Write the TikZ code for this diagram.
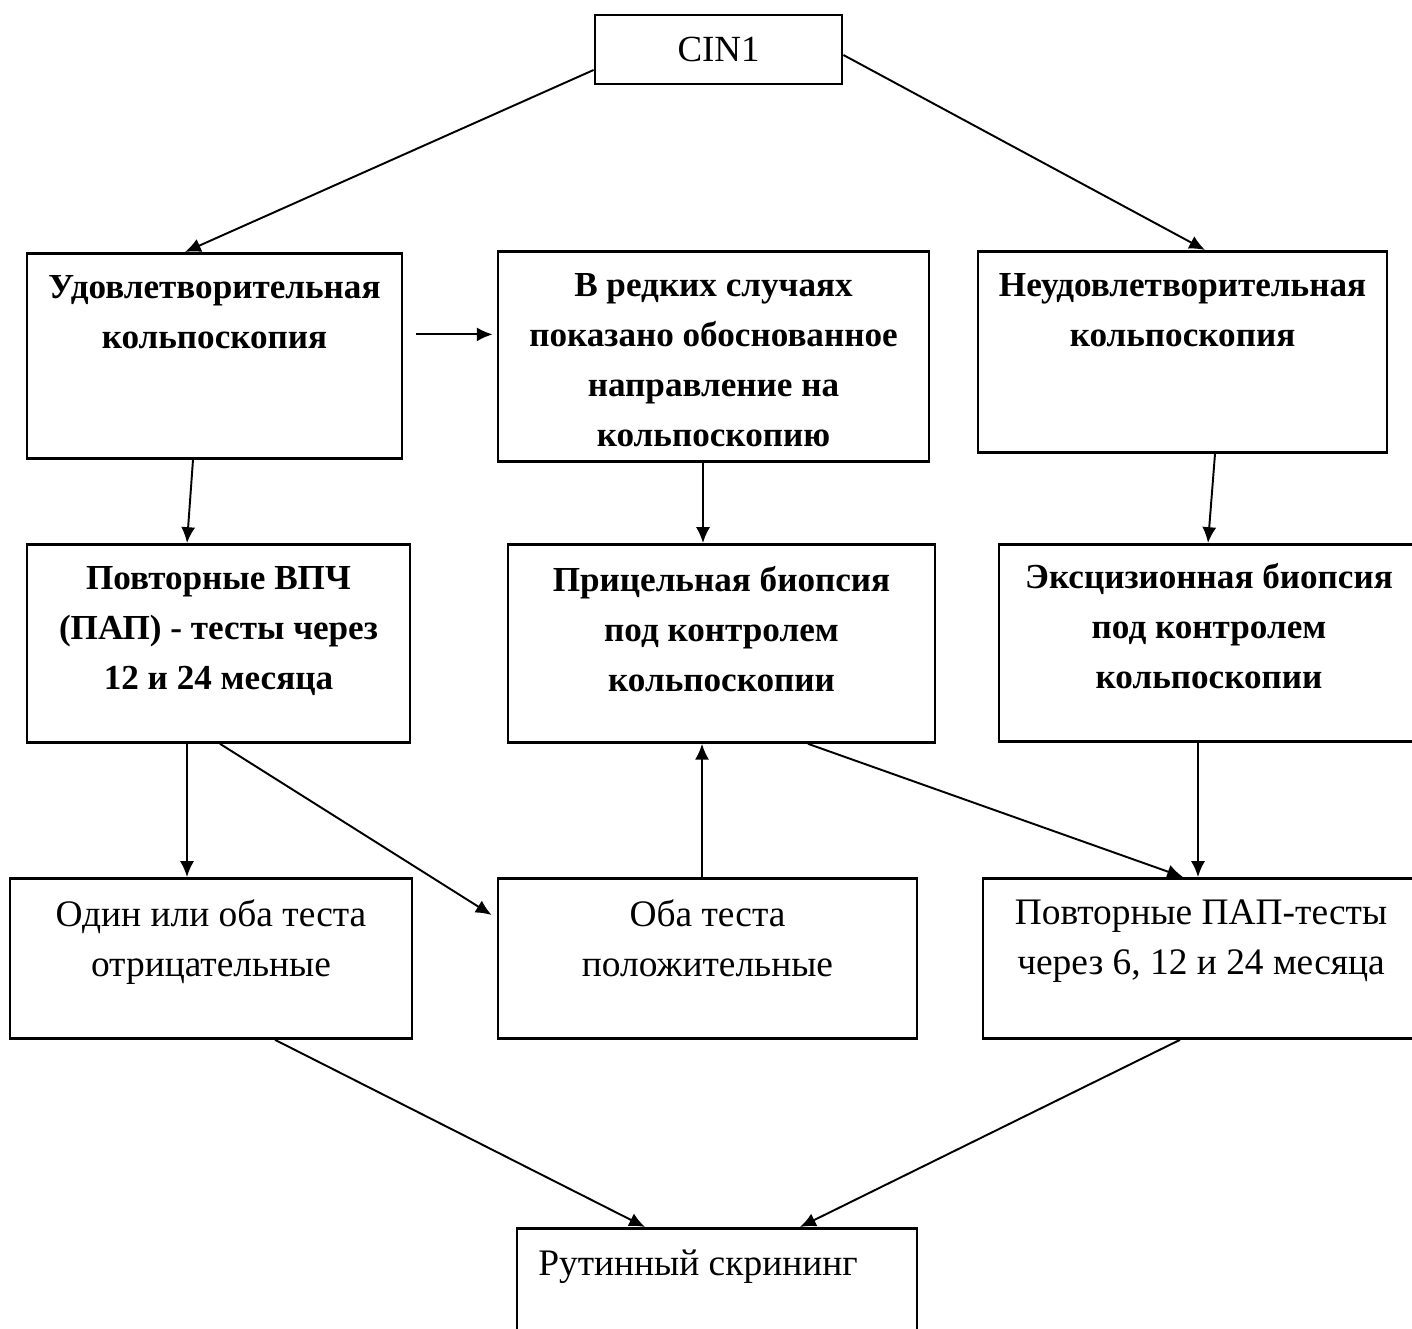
\documentclass[tikz,border=0pt]{standalone}
\usepackage{fontspec}
\setmainfont{Liberation Serif}
\usetikzlibrary{arrows.meta,positioning}

\begin{document}
\begin{tikzpicture}[->,>={Latex[length=9pt,width=8pt]},line width=1.1pt,
        box/.style={draw,-,rectangle,line width=1.6pt,inner sep=0pt},
        txt/.style={align=center,inner sep=0pt,anchor=north,yshift=-0.43cm,
          font=\fontsize{21.3}{28.5}\selectfont},
        btxt/.style={txt,yshift=-0.02cm,font=\fontsize{20}{28.5}\selectfont\bfseries}]

  \useasboundingbox (0,0) rectangle (28.24,-26.56);
  \clip (0,0) rectangle (28.24,-26.56);

  \node[box,minimum width=4.94cm,minimum height=1.38cm,
        font=\fontsize{21}{28.5}\selectfont] (cin) at (14.37,-0.99) {CIN1};

  \node[box,anchor=north,minimum width=7.5cm,minimum height=4.1cm,
        label={[btxt]north:Удовлетворительная\\кольпоскопия}] (ud) at (4.29,-5.04) {};
  \node[box,anchor=north,minimum width=8.62cm,minimum height=4.2cm,
        label={[btxt]north:В редких случаях\\показано обоснованное\\направление на\\кольпоскопию}] (rare) at (14.27,-5.0) {};
  \node[box,anchor=north,minimum width=8.18cm,minimum height=4.02cm,
        label={[btxt]north:Неудовлетворительная\\кольпоскопия}] (neud) at (23.65,-5.0) {};

  \node[box,anchor=north,minimum width=7.66cm,minimum height=3.96cm,
        label={[btxt]north:Повторные ВПЧ\\(ПАП) - тесты через\\12 и 24 месяца}] (hpv) at (4.37,-10.86) {};
  \node[box,anchor=north,minimum width=8.54cm,minimum height=3.96cm,
        label={[btxt]north:Прицельная биопсия\\под контролем\\кольпоскопии}] (target) at (14.43,-10.86) {};
  \node[box,anchor=north,minimum width=8.4cm,minimum height=3.94cm,
        label={[btxt,yshift=0.06cm]north:Эксцизионная биопсия\\под контролем\\кольпоскопии}] (excis) at (24.18,-10.86) {};

  \node[box,anchor=north,minimum width=8.04cm,minimum height=3.2cm,
        label={[txt]north:Один или оба теста\\отрицательные}] (neg) at (4.22,-17.54) {};
  \node[box,anchor=north,minimum width=8.38cm,minimum height=3.2cm,
        label={[txt]north:Оба теста\\положительные}] (pos) at (14.15,-17.54) {};
  \node[box,anchor=north,minimum width=8.72cm,minimum height=3.2cm,
        label={[txt]north:Повторные ПАП-тесты\\через 6, 12 и 24 месяца}] (pap) at (24.02,-17.54) {};

  \node[box,anchor=north,minimum width=8.0cm,minimum height=2.4cm,
        label={[txt,xshift=-0.38cm]north:Рутинный скрининг}] (screen) at (14.34,-24.54) {};

  \draw ([yshift=-0.41cm]cin.west) -- ([xshift=-0.59cm]ud.north);
  \draw ([yshift=-0.11cm]cin.east) -- ([xshift=0.45cm]neud.north);
  \draw ([xshift=0.26cm,yshift=0.43cm]ud.east) coordinate (s) -- ([xshift=-0.08cm]s -| rare.west);
  \draw ([xshift=-0.43cm]ud.south) -- ([xshift=-0.63cm]hpv.north);
  \draw ([xshift=-0.21cm]rare.south) -- ([xshift=-0.37cm]target.north);
  \draw ([xshift=0.65cm]neud.south) -- ([xshift=-0.02cm]excis.north);
  \draw ([xshift=-0.63cm]hpv.south) -- ([xshift=-0.48cm]neg.north);
  \draw ([xshift=0.03cm]hpv.south) -- ([xshift=-0.1cm,yshift=-0.76cm]pos.north west);
  \draw ([xshift=-0.11cm]pos.north) -- ([xshift=-0.39cm]target.south);
  \draw ([xshift=1.73cm]target.south) -- ([xshift=-0.36cm]pap.north);
  \draw ([xshift=-0.22cm]excis.south) -- ([xshift=-0.06cm]pap.north);
  \draw ([xshift=1.28cm]neg.south) -- ([xshift=-1.44cm]screen.north);
  \draw ([xshift=-0.42cm]pap.south) -- ([xshift=1.66cm]screen.north);

\end{tikzpicture}
\end{document}
